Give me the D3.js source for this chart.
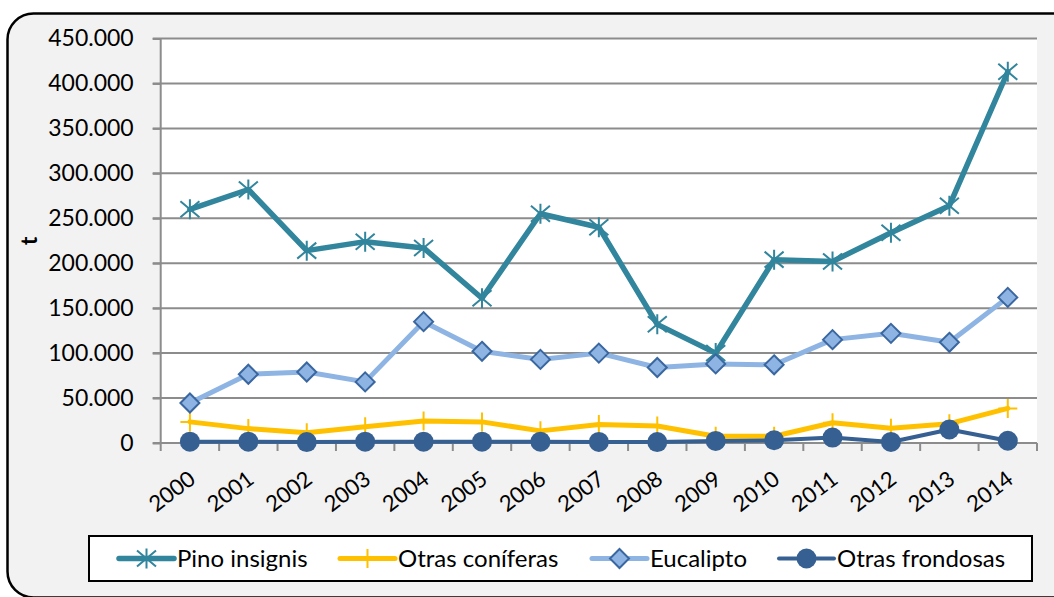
<!DOCTYPE html>
<html>
<head>
<meta charset="utf-8">
<script src="https://cdn.jsdelivr.net/npm/d3@7"></script>
<style>
  html, body { margin: 0; padding: 0; background: #ffffff; }
  svg { display: block; }
  text { font-family: Lato, "Noto Sans", sans-serif; fill: #000; }
</style>
</head>
<body>
<svg id="chart" width="1054" height="597"></svg>
<script>
// ---- data ----
const years = ["2000","2001","2002","2003","2004","2005","2006","2007","2008","2009","2010","2011","2012","2013","2014"];
const pinoInsignis   = [260000, 282000, 214000, 224000, 217000, 161000, 255000, 240000, 132000, 100000, 204000, 202000, 234000, 264000, 413000];
const otrasConiferas = [23500, 16000, 11500, 18000, 24500, 23500, 13500, 20500, 19000, 7500, 7500, 22500, 16500, 21500, 38500];
const eucalipto      = [44500, 76500, 79000, 68000, 135000, 102000, 93000, 100000, 84000, 88000, 87000, 115000, 122000, 112000, 162000];
const otrasFrondosas = [1500, 1500, 1000, 1500, 1500, 1500, 1500, 1200, 1000, 2300, 3000, 6000, 1200, 15000, 2500];
const seriesNames = ["Pino insignis", "Otras coníferas", "Eucalipto", "Otras frondosas"];
const yTicks = [0, 50000, 100000, 150000, 200000, 250000, 300000, 350000, 400000, 450000];
const yTitle = "t";

// ---- styles ----
const styles = [
  { color: "#31859c", width: 5.5, marker: "star", mstroke: "#31859c" },
  { color: "#ffc000", width: 5, marker: "plus", mstroke: "#ffc000" },
  { color: "#8eb4e3", width: 5, marker: "diamond", mfill: "#8eb4e3", mstroke: "#3a67a0" },
  { color: "#376092", width: 4, marker: "circle", mfill: "#376092" }
];
const seriesData = [pinoInsignis, otrasConiferas, eucalipto, otrasFrondosas];

const svg = d3.select("#chart");
const W = 1054, H = 597;
const plot = { left: 160.7, right: 1037, top: 38.5, bottom: 443 };

const locale = d3.formatLocale({ decimal: ",", thousands: ".", grouping: [3], currency: ["", "€"] });
const fmt = locale.format(",");

// background + rounded frame
svg.append("rect").attr("width", W).attr("height", H).attr("fill", "#ffffff");
svg.append("rect").attr("x", 7.5).attr("y", 13.5).attr("width", 1075).attr("height", 584)
  .attr("rx", 26).attr("ry", 26).attr("fill", "#f2f2f2").attr("stroke", "#000").attr("stroke-width", 2.5);

// plot area
svg.append("rect").attr("x", plot.left).attr("y", plot.top)
  .attr("width", plot.right - plot.left).attr("height", plot.bottom - plot.top).attr("fill", "#ffffff");

const x = d3.scaleBand().domain(years).range([plot.left, plot.right]).paddingInner(0).paddingOuter(0);
const xc = d => x(d) + x.bandwidth() / 2;
const y = d3.scaleLinear().domain([0, 450000]).range([plot.bottom, plot.top]);

// gridlines
const grid = svg.append("g");
yTicks.forEach(t => {
  if (t === 0) return;
  grid.append("line").attr("x1", plot.left - 8).attr("x2", plot.right)
    .attr("y1", y(t)).attr("y2", y(t)).attr("stroke", "#8c8c8c").attr("stroke-width", 2);
});

// y axis
const yAxisG = svg.append("g").attr("transform", `translate(${plot.left},0)`)
  .call(d3.axisLeft(y).tickValues(yTicks).tickFormat(fmt).tickSize(8).tickPadding(19));
yAxisG.select(".domain").attr("stroke", "#8c8c8c").attr("stroke-width", 2).attr("d", `M0,${plot.top}V${plot.bottom}`);
yAxisG.selectAll(".tick line").attr("stroke", "#8c8c8c").attr("stroke-width", 2);
yAxisG.selectAll(".tick text").style("font-family", "Lato, sans-serif").style("font-size", "23px").attr("fill", "#000");

// x axis
const xAxisG = svg.append("g");
xAxisG.append("line").attr("x1", plot.left - 8).attr("x2", plot.right).attr("y1", plot.bottom).attr("y2", plot.bottom)
  .attr("stroke", "#8c8c8c").attr("stroke-width", 2);
const boundaries = years.map(d => x(d)).concat([x(years[years.length - 1]) + x.bandwidth()]);
boundaries.forEach(b => {
  xAxisG.append("line").attr("x1", b).attr("x2", b).attr("y1", plot.bottom).attr("y2", plot.bottom + 8)
    .attr("stroke", "#8c8c8c").attr("stroke-width", 2);
});
years.forEach(d => {
  xAxisG.append("text").attr("text-anchor", "end")
    .attr("transform", `translate(${xc(d) + 7},${plot.bottom + 39}) rotate(-37)`)
    .style("font-size", "22px").text(d);
});

// y title
svg.append("text").attr("transform", `translate(37,241) rotate(-90)`).attr("text-anchor", "middle")
  .style("font-size", "23px").style("font-weight", "bold").text(yTitle);

// marker drawing
function drawMarker(g, type, st, cx, cy, s) {
  if (type === "star") {
    const p = `M${cx - s * 0.95},${cy - s * 0.8}L${cx + s * 0.95},${cy + s * 0.8}M${cx + s * 0.95},${cy - s * 0.8}L${cx - s * 0.95},${cy + s * 0.8}M${cx},${cy - s}L${cx},${cy + s}`;
    g.append("path").attr("d", p).attr("stroke", st.mstroke).attr("stroke-width", 2).attr("fill", "none");
  } else if (type === "plus") {
    const p = `M${cx - s},${cy}L${cx + s},${cy}M${cx},${cy - s}L${cx},${cy + s}`;
    g.append("path").attr("d", p).attr("stroke", st.mstroke).attr("stroke-width", 2).attr("fill", "none");
  } else if (type === "diamond") {
    const p = `M${cx},${cy - s}L${cx + s},${cy}L${cx},${cy + s}L${cx - s},${cy}Z`;
    g.append("path").attr("d", p).attr("fill", st.mfill).attr("stroke", st.mstroke).attr("stroke-width", 2);
  } else if (type === "circle") {
    g.append("circle").attr("cx", cx).attr("cy", cy).attr("r", s).attr("fill", st.mfill);
  }
}
const markerSize = { star: 10, plus: 9.5, diamond: 9.5, circle: 10 };

// series
const line = d3.line().x((v, i) => xc(years[i])).y(v => y(v));
seriesData.forEach((vals, si) => {
  const st = styles[si];
  const g = svg.append("g");
  g.append("path").attr("d", line(vals)).attr("fill", "none").attr("stroke", st.color)
    .attr("stroke-width", st.width).attr("stroke-linejoin", "round").attr("stroke-linecap", "round");
  vals.forEach((v, i) => drawMarker(g, st.marker, st, xc(years[i]), y(v), markerSize[st.marker]));
});

// legend
const lg = svg.append("g");
lg.append("rect").attr("x", 89).attr("y", 536).attr("width", 943).attr("height", 45)
  .attr("fill", "#ffffff").attr("stroke", "#000").attr("stroke-width", 2);
const legendX = [119, 340, 592, 779];
seriesNames.forEach((name, si) => {
  const st = styles[si];
  const x0 = legendX[si], ly = 558.5;
  lg.append("line").attr("x1", x0).attr("x2", x0 + 55).attr("y1", ly).attr("y2", ly)
    .attr("stroke", st.color).attr("stroke-width", st.width).attr("stroke-linecap", "round");
  drawMarker(lg, st.marker, st, x0 + 27.5, ly, markerSize[st.marker]);
  lg.append("text").attr("x", x0 + 58).attr("y", 566.5).style("font-size", "24px").text(name);
});
</script>
</body>
</html>
